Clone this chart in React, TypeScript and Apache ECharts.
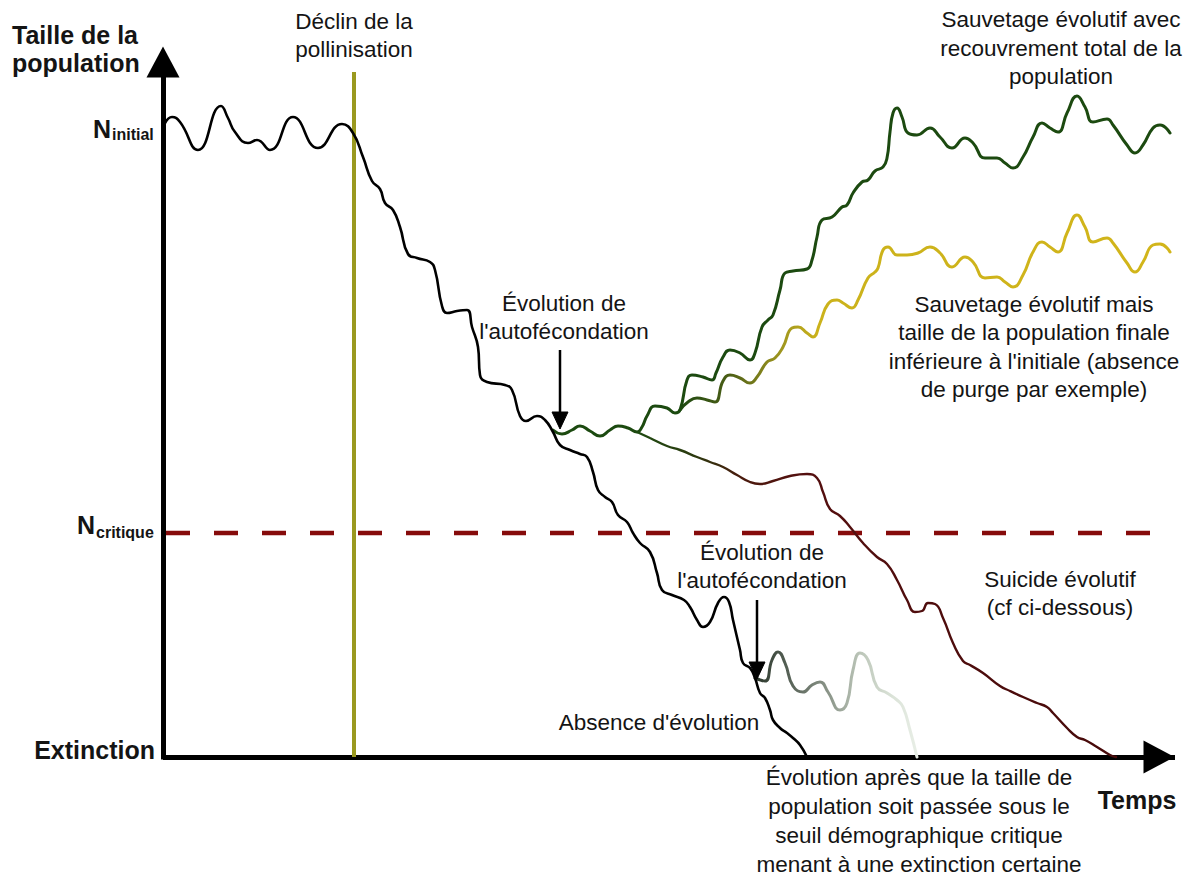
import React, { useEffect, useRef } from "react";
import * as echarts from "echarts";

type Pt = [number, number];

// x = time (arbitrary units), y = population size (arbitrary units)
const populationDecline: Pt[] = [
  [2, 634], [9, 640], [17, 635], [35, 607], [58, 651], [65, 639], [72, 625], [85, 614], [94, 617],
  [107, 607], [130, 640], [155, 609], [179, 633], [190, 624], [200, 600], [209, 576], [217, 568],
  [222, 554], [230, 547], [237, 530], [245, 503], [254, 499], [267, 495], [272, 487], [279, 451],
  [284, 444], [294, 446], [304, 447], [309, 430], [315, 410], [317, 382], [324, 375], [342, 372],
  [349, 367], [357, 341], [363, 336], [374, 341], [382, 337], [390, 325], [397, 312], [407, 307],
  [417, 303], [424, 300], [430, 285], [435, 267], [442, 260], [449, 255], [455, 242], [464, 235],
  [470, 224], [477, 214], [487, 205], [494, 184], [499, 167], [509, 162], [521, 157], [527, 150],
  [534, 137], [540, 130], [547, 135], [555, 154], [561, 160], [566, 155], [570, 137], [577, 107],
  [580, 94], [587, 89], [592, 79], [597, 64], [602, 59], [607, 47], [610, 37], [617, 29], [624, 24],
  [630, 19], [637, 12], [644, 0],
];

const evolutionaryRescue: Pt[] = [
  [390, 327], [399, 323], [409, 327], [417, 331], [427, 326], [437, 321], [447, 327], [455, 331],
  [465, 329], [474, 325], [479, 330], [484, 341], [492, 351], [504, 349], [512, 344], [517, 347],
  [524, 377], [529, 382], [540, 380], [549, 377], [553, 384], [560, 400], [567, 407], [577, 404],
  [587, 397], [592, 404], [599, 430], [605, 437], [610, 442], [617, 467], [622, 484], [630, 486],
  [644, 488], [649, 497], [654, 520], [659, 537], [669, 540], [679, 550], [684, 552], [690, 564],
  [699, 575], [705, 577], [712, 586], [720, 590], [724, 599], [727, 625], [730, 644], [734, 649],
  [739, 640], [745, 624], [754, 622], [767, 629], [777, 620], [789, 609], [802, 619], [810, 614],
  [822, 599], [834, 599], [842, 594], [850, 589], [860, 600], [870, 620], [879, 634], [887, 629],
  [895, 625], [904, 644], [914, 661], [922, 650], [930, 635], [944, 638], [950, 632], [964, 612],
  [972, 604], [980, 612], [990, 629], [997, 632], [1007, 624],
];

const partialRescue: Pt[] = [
  [517, 347], [525, 355], [534, 359], [544, 357], [552, 355], [560, 376], [567, 382], [577, 379],
  [587, 374], [594, 380], [604, 395], [612, 399], [620, 410], [629, 429], [635, 430], [644, 424],
  [650, 420], [657, 434], [665, 453], [674, 457], [680, 454], [689, 449], [695, 457], [705, 479],
  [712, 485], [715, 489], [720, 507], [725, 510], [734, 502], [744, 502], [755, 504], [767, 510],
  [777, 504], [789, 490], [802, 500], [810, 495], [822, 479], [834, 480], [842, 475], [850, 470],
  [860, 482], [870, 505], [879, 515], [887, 510], [895, 505], [904, 524], [914, 542], [922, 530],
  [930, 515], [944, 519], [950, 514], [964, 494], [972, 485], [980, 495], [990, 512], [997, 513],
  [1007, 505],
];

const evolutionarySuicide: Pt[] = [
  [474, 325], [487, 319], [504, 311], [517, 307], [534, 300], [547, 295], [560, 290], [574, 282],
  [587, 275], [597, 273], [610, 276], [627, 281], [644, 283], [654, 279], [660, 265], [667, 248],
  [677, 241], [687, 230], [700, 214], [714, 200], [724, 193], [734, 177], [744, 157], [752, 145],
  [759, 146], [765, 154], [772, 153], [780, 139], [790, 114], [800, 96], [807, 92], [820, 84],
  [837, 71], [847, 66], [860, 60], [874, 54], [884, 50], [890, 44], [904, 29], [914, 20], [922, 17],
  [934, 10], [947, 2], [953, 0],
];

const lateEvolution: Pt[] = [
  [592, 79], [602, 76], [609, 97], [615, 105], [622, 94], [630, 71], [640, 65], [649, 72], [657, 75],
  [665, 65], [677, 47], [684, 54], [690, 87], [697, 104], [705, 97], [714, 70], [724, 64], [734, 57],
  [740, 50], [747, 27], [754, 0],
];

const pollinationDecline: Pt[] = [[191, 0], [191, 685]];
const criticalThreshold: Pt[] = [[3, 224], [989, 224]];

const T_MAX = 1012;
const N_MAX = 695;

const W = 1186;
const H = 879;
const FONT = '"Liberation Sans", Arial, Helvetica, sans-serif';
const INK = "#141414";
const TXT = 22.5;

function grad(stops: [number, string][]) {
  return new echarts.graphic.LinearGradient(
    0, 0, 1, 0,
    stops.map(([offset, color]) => ({ offset, color }))
  );
}

function curve(name: string, data: Pt[], color: any, width: number, z: number, smooth: number | boolean = 0.5) {
  return {
    type: "line",
    name,
    data,
    symbol: "none",
    showSymbol: false,
    smooth,
    clip: false,
    silent: true,
    z,
    lineStyle: { color, width, join: "round", cap: "round" },
    emphasis: { disabled: true },
  };
}

function text(
  content: string,
  x: number,
  y: number,
  size: number,
  align: "left" | "center" | "right",
  bold = false
) {
  return {
    type: "text",
    x,
    y,
    z: 100,
    silent: true,
    style: {
      text: content,
      fill: INK,
      fontSize: size,
      fontFamily: FONT,
      fontWeight: bold ? "bold" : "normal",
      align,
      textAlign: align,
      verticalAlign: "middle",
      textVerticalAlign: "middle",
    },
  };
}

function block(lines: string[], cx: number, y0: number, step: number, size = TXT) {
  return lines.map((l, i) => text(l, cx, y0 + i * step, size, "center"));
}

function arrow(x: number, y1: number, y2: number) {
  return [
    {
      type: "line",
      z: 100,
      silent: true,
      shape: { x1: x, y1, x2: x, y2: y2 - 14 },
      style: { stroke: "#000", lineWidth: 2.5 },
    },
    {
      type: "polygon",
      z: 100,
      silent: true,
      shape: { points: [[x - 8, y2 - 17], [x + 8, y2 - 17], [x, y2]] },
      style: { fill: "#000", stroke: "#000", lineWidth: 1, lineJoin: "round" },
    },
  ];
}

export default function App() {
  const ref = useRef<HTMLDivElement>(null);

  useEffect(() => {
    if (!ref.current) return;
    const chart = echarts.init(ref.current, null, { renderer: "svg" });

    const axisCommon = {
      type: "value",
      min: 0,
      axisTick: { show: false },
      axisLabel: { show: false },
      splitLine: { show: false },
    };

    const graphic: any[] = [
      text("Taille de la", 12, 35, 25, "left", true),
      text("population", 12, 63, 25, "left", true),
      text("N", 111, 128.5, 25, "right", true),
      text("initial", 112, 134.5, 16, "left", true),
      text("N", 95, 524.5, 25, "right", true),
      text("critique", 96, 532.5, 16, "left", true),
      text("Extinction", 155, 750, 25, "right", true),
      text("Temps", 1137, 800, 25, "center", true),
      ...block(["Déclin de la", "pollinisation"], 354, 21, 28.5),
      ...block(["Évolution de", "l'autofécondation"], 564, 303, 28.5),
      ...block(["Sauvetage évolutif avec", "recouvrement total de la", "population"], 1061, 19.5, 28.5),
      ...block(
        [
          "Sauvetage évolutif mais",
          "taille de la population finale",
          "inférieure à l'initiale (absence",
          "de purge par exemple)",
        ],
        1034, 304, 28.5
      ),
      ...block(["Suicide évolutif", "(cf ci-dessous)"], 1060, 579, 28.5),
      ...block(["Évolution de", "l'autofécondation"], 762, 552, 28.5),
      ...block(["Absence d'évolution"], 659, 722, 28.5),
      ...block(
        [
          "Évolution après que la taille de",
          "population soit passée sous le",
          "seuil démographique critique",
          "menant à une extinction certaine",
        ],
        919, 777, 29
      ),
      ...arrow(560, 350, 429),
      ...arrow(757, 600, 679),
    ];

    chart.setOption({
      animation: false,
      backgroundColor: "#ffffff",
      grid: { left: 163, right: 11, top: 62, bottom: 122, outerBoundsMode: "none", containLabel: false },
      xAxis: {
        ...axisCommon,
        max: T_MAX,
        axisLine: {
          show: true,
          onZero: false,
          symbol: ["none", "triangle"],
          symbolSize: [33, 31],
          symbolOffset: [0, -16],
          lineStyle: { color: "#000", width: 5, cap: "butt" },
        },
      },
      yAxis: {
        ...axisCommon,
        max: N_MAX,
        axisLine: {
          show: true,
          onZero: false,
          symbol: ["none", "triangle"],
          symbolSize: [33, 31],
          lineStyle: { color: "#000", width: 5, cap: "square" },
        },
      },
      series: [
        {
          ...curve("Seuil critique", criticalThreshold, "#860b0b", 4.5, 1, false),
          lineStyle: { color: "#860b0b", width: 4.5, type: [24, 24], cap: "butt" },
        },
        {
          ...curve("Déclin de la pollinisation", pollinationDecline, "#9a991f", 4, 2, false),
          lineStyle: { color: "#9a991f", width: 4, cap: "butt" },
        },
        curve(
          "Suicide évolutif",
          evolutionarySuicide,
          grad([
            [0, "#1f4a12"],
            [0.12, "#2c3a0f"],
            [0.22, "#4a1a0d"],
            [0.35, "#540f0f"],
            [1, "#470a0a"],
          ]),
          2.4,
          3
        ),
        curve(
          "Sauvetage partiel",
          partialRescue,
          grad([
            [0, "#1f4a12"],
            [0.1, "#4b5e16"],
            [0.2, "#9a931f"],
            [0.28, "#cbb21b"],
            [1, "#d2b51a"],
          ]),
          3,
          4
        ),
        curve("Sauvetage total", evolutionaryRescue, "#1c4a10", 3, 5),
        curve(
          "Évolution tardive",
          lateEvolution,
          grad([
            [0, "#2b372b"],
            [0.2, "#556055"],
            [0.45, "#8a9488"],
            [0.65, "#bcc6b9"],
            [0.85, "#dbe3d8"],
            [1, "#e8eee6"],
          ]),
          3,
          5
        ),
        curve("Absence d'évolution", populationDecline, "#000000", 2.6, 6),
      ],
      graphic,
    });

    return () => chart.dispose();
  }, []);

  return (
    <div
      ref={ref}
      style={{ position: "absolute", left: 0, top: 0, width: W, height: H, background: "#fff" }}
    />
  );
}
